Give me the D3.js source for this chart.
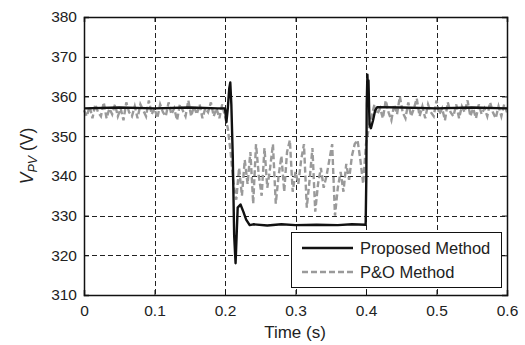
<!DOCTYPE html>
<html><head><meta charset="utf-8">
<script src="https://cdn.jsdelivr.net/npm/d3@7"></script>
<style>
html,body{margin:0;padding:0;background:#fff;}
text{font-family:"Liberation Sans",Arial,sans-serif;fill:#222;}
</style></head>
<body><svg id="c" width="525" height="345"></svg>
<script>
// ---- data ----
const xTicks = [0, 0.1, 0.2, 0.3, 0.4, 0.5, 0.6];
const yTicks = [310, 320, 330, 340, 350, 360, 370, 380];
const seriesNames = ["Proposed Method", "P&O Method"];

// Proposed method: time (s) and voltage (V)
const propT = [0, 0.05, 0.1, 0.15, 0.19, 0.2, 0.202, 0.204, 0.206, 0.2075, 0.209, 0.211, 0.213, 0.215, 0.2165, 0.218, 0.222, 0.226, 0.23, 0.235, 0.24, 0.26, 0.28, 0.3, 0.33, 0.36, 0.38, 0.3995,
  0.4005, 0.401, 0.402, 0.403, 0.4035, 0.405, 0.407, 0.41, 0.413, 0.416, 0.45, 0.5, 0.55, 0.6];
const propV = [357, 357.2, 357, 357.2, 357, 357, 353.5, 357, 362, 363.5, 358, 345, 325, 318, 325, 332, 332.8, 331, 329, 327.6, 327.8, 327.5, 327.8, 327.6, 327.7, 327.6, 327.8, 327.7,
  340, 358, 365.5, 360, 364, 353, 352, 354, 356.5, 357.3, 357.2, 357, 357.2, 357];

// P&O method: sampled every 0.004 s from 0 to 0.6
const pnoStep = 0.004;
const pnoV = [
  356.5, 355, 357.5, 354.5, 358, 356, 355, 358.5, 354.5, 357,
  355.5, 358, 355, 357, 354, 358.5, 356, 355, 357.5, 354.5,
  358, 356.5, 355, 359, 355.5, 357, 354.5, 358, 356, 355,
  358.5, 355.5, 357, 354, 358, 356.5, 355, 359, 355, 357.5,
  355.5, 358, 354.5, 357, 356, 358.5, 355, 357, 354.5, 358,
  355, 352, 346, 338, 334, 342, 335, 344, 338, 346,
  333, 348, 340, 335, 347, 337, 342, 348, 333, 340,
  345, 336, 346, 349, 336, 341, 338, 344, 348, 332,
  339, 347, 331, 338, 342, 337, 340, 344, 348, 330,
  337, 341, 336, 343, 339, 345, 348, 349, 344, 338,
  348, 352, 355, 358, 355.5, 357, 354.5, 359, 356, 354,
  358, 355.5, 360, 356, 354.5, 358.5, 355, 357, 359.5, 355,
  357.5, 354.5, 358, 356, 355, 359, 355.5, 357, 354, 358.5,
  356, 355, 358, 354.5, 357.5, 356, 359, 355, 357, 354.5,
  358, 355.5, 357, 355, 358.5, 356, 354.5, 357.5, 355, 358,
  356
];

// ---- chart ----
const svg = d3.select("#c");
const m = {l: 84, r: 507, t: 17, b: 295};
const x = d3.scaleLinear().domain([0, 0.6]).range([m.l, m.r]);
const y = d3.scaleLinear().domain([310, 380]).range([m.b, m.t]);

// grid
const grid = svg.append("g").attr("stroke", "#222").attr("stroke-width", 1).attr("stroke-dasharray", "5,3");
grid.selectAll(".gx").data(xTicks.slice(1, -1)).enter().append("line")
  .attr("x1", d => Math.round(x(d)) + 0.5).attr("x2", d => Math.round(x(d)) + 0.5)
  .attr("y1", m.t).attr("y2", m.b);
grid.selectAll(".gy").data(yTicks.slice(1, -1)).enter().append("line")
  .attr("y1", d => Math.round(y(d)) + 0.5).attr("y2", d => Math.round(y(d)) + 0.5)
  .attr("x1", m.l).attr("x2", m.r);

// lines
const pnoData = pnoV.map((v, i) => [i * pnoStep, v]);
const line = d3.line().x(d => x(d[0])).y(d => y(d[1]));
svg.append("path").datum(pnoData).attr("d", line)
  .attr("fill", "none").attr("stroke", "#9a9a9a").attr("stroke-width", 2.4)
  .attr("stroke-dasharray", "6,3");
svg.append("path").datum(propT.map((t, i) => [t, propV[i]])).attr("d", line)
  .attr("fill", "none").attr("stroke", "#111").attr("stroke-width", 2.4).attr("stroke-linejoin", "round");

// axes (ticks inward on all sides)
const fs = "15.5px";
const axB = svg.append("g").attr("transform", `translate(0,${m.b})`)
  .call(d3.axisBottom(x).tickValues(xTicks).tickSize(-5).tickPadding(10).tickFormat(d3.format("")));
const axT = svg.append("g").attr("transform", `translate(0,${m.t})`)
  .call(d3.axisTop(x).tickValues(xTicks).tickSize(-5).tickFormat(""));
const axL = svg.append("g").attr("transform", `translate(${m.l},0)`)
  .call(d3.axisLeft(y).tickValues(yTicks).tickSize(-5).tickPadding(7));
const axR = svg.append("g").attr("transform", `translate(${m.r},0)`)
  .call(d3.axisRight(y).tickValues(yTicks).tickSize(-5).tickFormat(""));
[axB, axT, axL, axR].forEach(a => {
  a.select(".domain").attr("stroke", "#111").attr("stroke-width", 1.5);
  a.selectAll(".tick line").attr("stroke", "#111");
  a.selectAll("text").style("font-family", "'Liberation Sans',Arial,sans-serif").style("font-size", fs).attr("fill", "#222");
});

// axis titles
svg.append("text").attr("x", 295).attr("y", 338).attr("text-anchor", "middle")
  .style("font-size", "17px").text("Time (s)");
const yl = svg.append("text").attr("transform", "translate(33,156) rotate(-90)")
  .attr("text-anchor", "middle").style("font-size", "17.5px");
yl.append("tspan").style("font-style", "italic").text("V");
yl.append("tspan").style("font-style", "italic").style("font-size", "12.5px").attr("dy", 4).text("PV");
yl.append("tspan").attr("dy", -4).text(" (V)");

// legend
const lg = svg.append("g");
lg.append("rect").attr("x", 291.5).attr("y", 232.5).attr("width", 210).attr("height", 55)
  .attr("fill", "#fff").attr("stroke", "#111").attr("stroke-width", 1);
const lgStyles = [{c: "#111", dash: null}, {c: "#9a9a9a", dash: "6,3"}];
seriesNames.forEach((n, i) => {
  const yy = 248 + i * 24;
  lg.append("line").attr("x1", 302).attr("x2", 353).attr("y1", yy).attr("y2", yy)
    .attr("stroke", lgStyles[i].c).attr("stroke-width", 2.4)
    .attr("stroke-dasharray", lgStyles[i].dash);
  lg.append("text").attr("x", 360).attr("y", yy + 6).style("font-size", "16.5px").text(n);
});
</script></body></html>
